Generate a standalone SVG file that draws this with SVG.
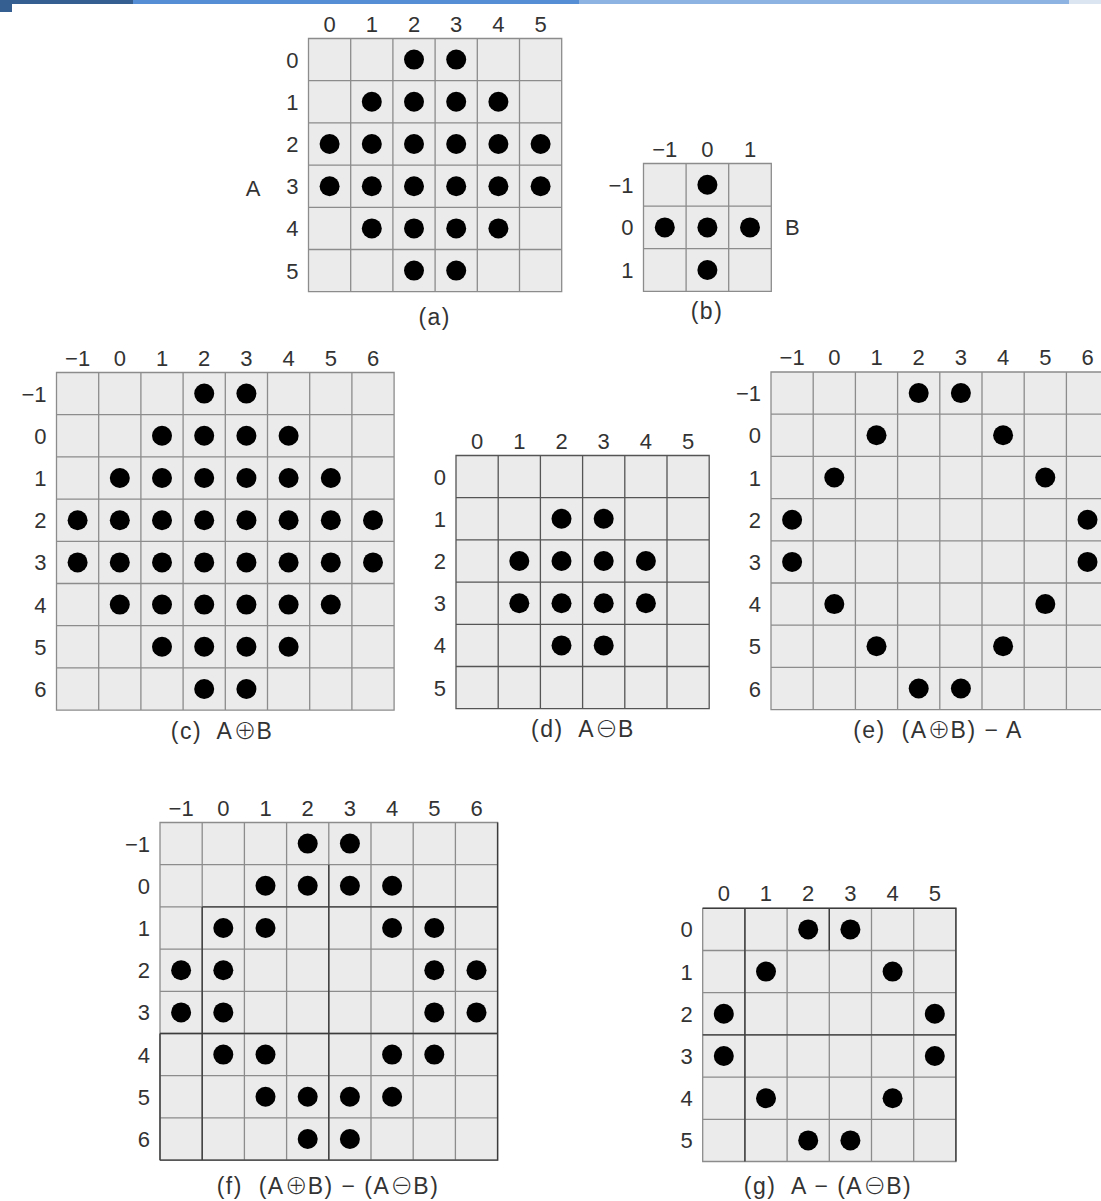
<svg xmlns="http://www.w3.org/2000/svg" width="1101" height="1201" viewBox="0 0 1101 1201">
<style>
.cell{fill:#ebebeb;stroke:#8c8c8c;stroke-width:1.3}
.cell.dk{stroke:#555}
.ov{fill:none;stroke:#3c3c3c;stroke-width:1.4}
.dot{fill:#000}
.t{font-family:"Liberation Sans",Arial,sans-serif;font-size:22px;fill:#333;text-anchor:middle}
.r{text-anchor:end}
.s{text-anchor:start}
.cap{font-size:23px;letter-spacing:1.5px}
.op{font-family:"Noto Sans CJK KR","DejaVu Sans",sans-serif;font-weight:300;letter-spacing:0}
</style>
<defs>
<path id="g6" d="M0 0H253.2V253.2H0Z M42.2 0V253.2 M84.4 0V253.2 M126.6 0V253.2 M168.8 0V253.2 M211 0V253.2 M0 42.2H253.2 M0 84.4H253.2 M0 126.6H253.2 M0 168.8H253.2 M0 211H253.2"/>
<path id="g8" d="M0 0H337.6V337.6H0Z M42.2 0V337.6 M84.4 0V337.6 M126.6 0V337.6 M168.8 0V337.6 M211 0V337.6 M253.2 0V337.6 M295.4 0V337.6 M0 42.2H337.6 M0 84.4H337.6 M0 126.6H337.6 M0 168.8H337.6 M0 211H337.6 M0 253.2H337.6 M0 295.4H337.6"/>
<path id="g3" d="M0 0H127.8V127.8H0Z M42.6 0V127.8 M85.2 0V127.8 M0 42.6H127.8 M0 85.2H127.8"/>
<circle id="d" r="10"/>
</defs>
<rect width="1101" height="1201" fill="#fff"/>
<g id="topbar">
<rect x="0" y="0" width="133" height="4" fill="#355f91"/>
<rect x="0" y="0" width="12" height="12" fill="#355f91"/>
<rect x="133" y="0" width="446" height="4" fill="#558ed5"/>
<rect x="579" y="0" width="490" height="4" fill="#8db3e2"/>
<rect x="1069" y="0" width="32" height="4" fill="#dbe5f1"/>
</g>
<g id="connectors"/>

<g id="gridA" transform="translate(308.5,38.5)">
<use href="#g6" class="cell"/>
<g class="t"><text x="21.1" y="-7">0</text><text x="63.3" y="-7">1</text><text x="105.5" y="-7">2</text><text x="147.7" y="-7">3</text><text x="189.9" y="-7">4</text><text x="232.1" y="-7">5</text></g>
<g class="t r"><text x="-10" y="29.1">0</text><text x="-10" y="71.3">1</text><text x="-10" y="113.5">2</text><text x="-10" y="155.7">3</text><text x="-10" y="197.9">4</text><text x="-10" y="240.1">5</text></g>
<text class="t" x="-55.5" y="157">A</text>
<g class="dot">
<use href="#d" x="105.5" y="21.1"/><use href="#d" x="147.7" y="21.1"/>
<use href="#d" x="63.3" y="63.3"/><use href="#d" x="105.5" y="63.3"/><use href="#d" x="147.7" y="63.3"/><use href="#d" x="189.9" y="63.3"/>
<use href="#d" x="21.1" y="105.5"/><use href="#d" x="63.3" y="105.5"/><use href="#d" x="105.5" y="105.5"/><use href="#d" x="147.7" y="105.5"/><use href="#d" x="189.9" y="105.5"/><use href="#d" x="232.1" y="105.5"/>
<use href="#d" x="21.1" y="147.7"/><use href="#d" x="63.3" y="147.7"/><use href="#d" x="105.5" y="147.7"/><use href="#d" x="147.7" y="147.7"/><use href="#d" x="189.9" y="147.7"/><use href="#d" x="232.1" y="147.7"/>
<use href="#d" x="63.3" y="189.9"/><use href="#d" x="105.5" y="189.9"/><use href="#d" x="147.7" y="189.9"/><use href="#d" x="189.9" y="189.9"/>
<use href="#d" x="105.5" y="232.1"/><use href="#d" x="147.7" y="232.1"/>
</g>
</g>
<text class="t cap" x="434.7" y="325">(a)</text>

<g id="gridB" transform="translate(643.5,163.5)">
<use href="#g3" class="cell"/>
<g class="t"><text x="21.3" y="-7">−1</text><text x="63.9" y="-7">0</text><text x="106.5" y="-7">1</text></g>
<g class="t r"><text x="-10" y="29.3">−1</text><text x="-10" y="71.9">0</text><text x="-10" y="114.5">1</text></g>
<text class="t s" x="141.5" y="71.9">B</text>
<g class="dot">
<use href="#d" x="63.9" y="21.3"/>
<use href="#d" x="21.3" y="63.9"/><use href="#d" x="63.9" y="63.9"/><use href="#d" x="106.5" y="63.9"/>
<use href="#d" x="63.9" y="106.5"/>
</g>
</g>
<text class="t cap" x="707" y="319">(b)</text>

<g id="gridC" transform="translate(56.5,372.5)">
<use href="#g8" class="cell"/>
<g class="t"><text x="21.1" y="-7">−1</text><text x="63.3" y="-7">0</text><text x="105.5" y="-7">1</text><text x="147.7" y="-7">2</text><text x="189.9" y="-7">3</text><text x="232.1" y="-7">4</text><text x="274.3" y="-7">5</text><text x="316.5" y="-7">6</text></g>
<g class="t r"><text x="-10" y="29.1">−1</text><text x="-10" y="71.3">0</text><text x="-10" y="113.5">1</text><text x="-10" y="155.7">2</text><text x="-10" y="197.9">3</text><text x="-10" y="240.1">4</text><text x="-10" y="282.3">5</text><text x="-10" y="324.5">6</text></g>
<g class="dot">
<use href="#d" x="147.7" y="21.1"/><use href="#d" x="189.9" y="21.1"/>
<use href="#d" x="105.5" y="63.3"/><use href="#d" x="147.7" y="63.3"/><use href="#d" x="189.9" y="63.3"/><use href="#d" x="232.1" y="63.3"/>
<use href="#d" x="63.3" y="105.5"/><use href="#d" x="105.5" y="105.5"/><use href="#d" x="147.7" y="105.5"/><use href="#d" x="189.9" y="105.5"/><use href="#d" x="232.1" y="105.5"/><use href="#d" x="274.3" y="105.5"/>
<use href="#d" x="21.1" y="147.7"/><use href="#d" x="63.3" y="147.7"/><use href="#d" x="105.5" y="147.7"/><use href="#d" x="147.7" y="147.7"/><use href="#d" x="189.9" y="147.7"/><use href="#d" x="232.1" y="147.7"/><use href="#d" x="274.3" y="147.7"/><use href="#d" x="316.5" y="147.7"/>
<use href="#d" x="21.1" y="189.9"/><use href="#d" x="63.3" y="189.9"/><use href="#d" x="105.5" y="189.9"/><use href="#d" x="147.7" y="189.9"/><use href="#d" x="189.9" y="189.9"/><use href="#d" x="232.1" y="189.9"/><use href="#d" x="274.3" y="189.9"/><use href="#d" x="316.5" y="189.9"/>
<use href="#d" x="63.3" y="232.1"/><use href="#d" x="105.5" y="232.1"/><use href="#d" x="147.7" y="232.1"/><use href="#d" x="189.9" y="232.1"/><use href="#d" x="232.1" y="232.1"/><use href="#d" x="274.3" y="232.1"/>
<use href="#d" x="105.5" y="274.3"/><use href="#d" x="147.7" y="274.3"/><use href="#d" x="189.9" y="274.3"/><use href="#d" x="232.1" y="274.3"/>
<use href="#d" x="147.7" y="316.5"/><use href="#d" x="189.9" y="316.5"/>
</g>
</g>
<text class="t cap" x="222" y="739">(c)&#160; A<tspan class="op">⊕</tspan>B</text>

<g id="gridD" transform="translate(456,455.5)">
<use href="#g6" class="cell dk"/>
<g class="t"><text x="21.1" y="-7">0</text><text x="63.3" y="-7">1</text><text x="105.5" y="-7">2</text><text x="147.7" y="-7">3</text><text x="189.9" y="-7">4</text><text x="232.1" y="-7">5</text></g>
<g class="t r"><text x="-10" y="29.1">0</text><text x="-10" y="71.3">1</text><text x="-10" y="113.5">2</text><text x="-10" y="155.7">3</text><text x="-10" y="197.9">4</text><text x="-10" y="240.1">5</text></g>
<g class="dot">
<use href="#d" x="105.5" y="63.3"/><use href="#d" x="147.7" y="63.3"/>
<use href="#d" x="63.3" y="105.5"/><use href="#d" x="105.5" y="105.5"/><use href="#d" x="147.7" y="105.5"/><use href="#d" x="189.9" y="105.5"/>
<use href="#d" x="63.3" y="147.7"/><use href="#d" x="105.5" y="147.7"/><use href="#d" x="147.7" y="147.7"/><use href="#d" x="189.9" y="147.7"/>
<use href="#d" x="105.5" y="189.9"/><use href="#d" x="147.7" y="189.9"/>
</g>
</g>
<text class="t cap" x="583" y="737">(d)&#160; A<tspan class="op">⊖</tspan>B</text>

<g id="gridE" transform="translate(771,372)">
<use href="#g8" class="cell"/>
<g class="t"><text x="21.1" y="-7">−1</text><text x="63.3" y="-7">0</text><text x="105.5" y="-7">1</text><text x="147.7" y="-7">2</text><text x="189.9" y="-7">3</text><text x="232.1" y="-7">4</text><text x="274.3" y="-7">5</text><text x="316.5" y="-7">6</text></g>
<g class="t r"><text x="-10" y="29.1">−1</text><text x="-10" y="71.3">0</text><text x="-10" y="113.5">1</text><text x="-10" y="155.7">2</text><text x="-10" y="197.9">3</text><text x="-10" y="240.1">4</text><text x="-10" y="282.3">5</text><text x="-10" y="324.5">6</text></g>
<g class="dot">
<use href="#d" x="147.7" y="21.1"/><use href="#d" x="189.9" y="21.1"/>
<use href="#d" x="105.5" y="63.3"/><use href="#d" x="232.1" y="63.3"/>
<use href="#d" x="63.3" y="105.5"/><use href="#d" x="274.3" y="105.5"/>
<use href="#d" x="21.1" y="147.7"/><use href="#d" x="316.5" y="147.7"/>
<use href="#d" x="21.1" y="189.9"/><use href="#d" x="316.5" y="189.9"/>
<use href="#d" x="63.3" y="232.1"/><use href="#d" x="274.3" y="232.1"/>
<use href="#d" x="105.5" y="274.3"/><use href="#d" x="232.1" y="274.3"/>
<use href="#d" x="147.7" y="316.5"/><use href="#d" x="189.9" y="316.5"/>
</g>
</g>
<text class="t cap" x="938" y="738">(e)&#160; (A<tspan class="op">⊕</tspan>B) − A</text>

<g id="gridF" transform="translate(160,822.5)">
<use href="#g8" class="cell"/>
<path class="ov" d="M337.6 0V337.6H0 M42.2 84.4H337.6 M0 211H337.6 M0 211V337.6 M168.8 42.2V337.6 M42.2 84.4V337.6"/>
<g class="t"><text x="21.1" y="-7">−1</text><text x="63.3" y="-7">0</text><text x="105.5" y="-7">1</text><text x="147.7" y="-7">2</text><text x="189.9" y="-7">3</text><text x="232.1" y="-7">4</text><text x="274.3" y="-7">5</text><text x="316.5" y="-7">6</text></g>
<g class="t r"><text x="-10" y="29.1">−1</text><text x="-10" y="71.3">0</text><text x="-10" y="113.5">1</text><text x="-10" y="155.7">2</text><text x="-10" y="197.9">3</text><text x="-10" y="240.1">4</text><text x="-10" y="282.3">5</text><text x="-10" y="324.5">6</text></g>
<g class="dot">
<use href="#d" x="147.7" y="21.1"/><use href="#d" x="189.9" y="21.1"/>
<use href="#d" x="105.5" y="63.3"/><use href="#d" x="147.7" y="63.3"/><use href="#d" x="189.9" y="63.3"/><use href="#d" x="232.1" y="63.3"/>
<use href="#d" x="63.3" y="105.5"/><use href="#d" x="105.5" y="105.5"/><use href="#d" x="232.1" y="105.5"/><use href="#d" x="274.3" y="105.5"/>
<use href="#d" x="21.1" y="147.7"/><use href="#d" x="63.3" y="147.7"/><use href="#d" x="274.3" y="147.7"/><use href="#d" x="316.5" y="147.7"/>
<use href="#d" x="21.1" y="189.9"/><use href="#d" x="63.3" y="189.9"/><use href="#d" x="274.3" y="189.9"/><use href="#d" x="316.5" y="189.9"/>
<use href="#d" x="63.3" y="232.1"/><use href="#d" x="105.5" y="232.1"/><use href="#d" x="232.1" y="232.1"/><use href="#d" x="274.3" y="232.1"/>
<use href="#d" x="105.5" y="274.3"/><use href="#d" x="147.7" y="274.3"/><use href="#d" x="189.9" y="274.3"/><use href="#d" x="232.1" y="274.3"/>
<use href="#d" x="147.7" y="316.5"/><use href="#d" x="189.9" y="316.5"/>
</g>
</g>
<text class="t cap" x="328" y="1194">(f)&#160; (A<tspan class="op">⊕</tspan>B) − (A<tspan class="op">⊖</tspan>B)</text>

<g id="gridG" transform="translate(702.7,908.3)">
<use href="#g6" class="cell"/>
<path class="ov" d="M0 0H253.2V253.2 M42.2 0V253.2 M0 126.6H253.2 M126.6 0V42.2"/>
<g class="t"><text x="21.1" y="-7">0</text><text x="63.3" y="-7">1</text><text x="105.5" y="-7">2</text><text x="147.7" y="-7">3</text><text x="189.9" y="-7">4</text><text x="232.1" y="-7">5</text></g>
<g class="t r"><text x="-10" y="29.1">0</text><text x="-10" y="71.3">1</text><text x="-10" y="113.5">2</text><text x="-10" y="155.7">3</text><text x="-10" y="197.9">4</text><text x="-10" y="240.1">5</text></g>
<g class="dot">
<use href="#d" x="105.5" y="21.1"/><use href="#d" x="147.7" y="21.1"/>
<use href="#d" x="63.3" y="63.3"/><use href="#d" x="189.9" y="63.3"/>
<use href="#d" x="21.1" y="105.5"/><use href="#d" x="232.1" y="105.5"/>
<use href="#d" x="21.1" y="147.7"/><use href="#d" x="232.1" y="147.7"/>
<use href="#d" x="63.3" y="189.9"/><use href="#d" x="189.9" y="189.9"/>
<use href="#d" x="105.5" y="232.1"/><use href="#d" x="147.7" y="232.1"/>
</g>
</g>
<text class="t cap" x="828" y="1194">(g)&#160; A − (A<tspan class="op">⊖</tspan>B)</text>
</svg>
